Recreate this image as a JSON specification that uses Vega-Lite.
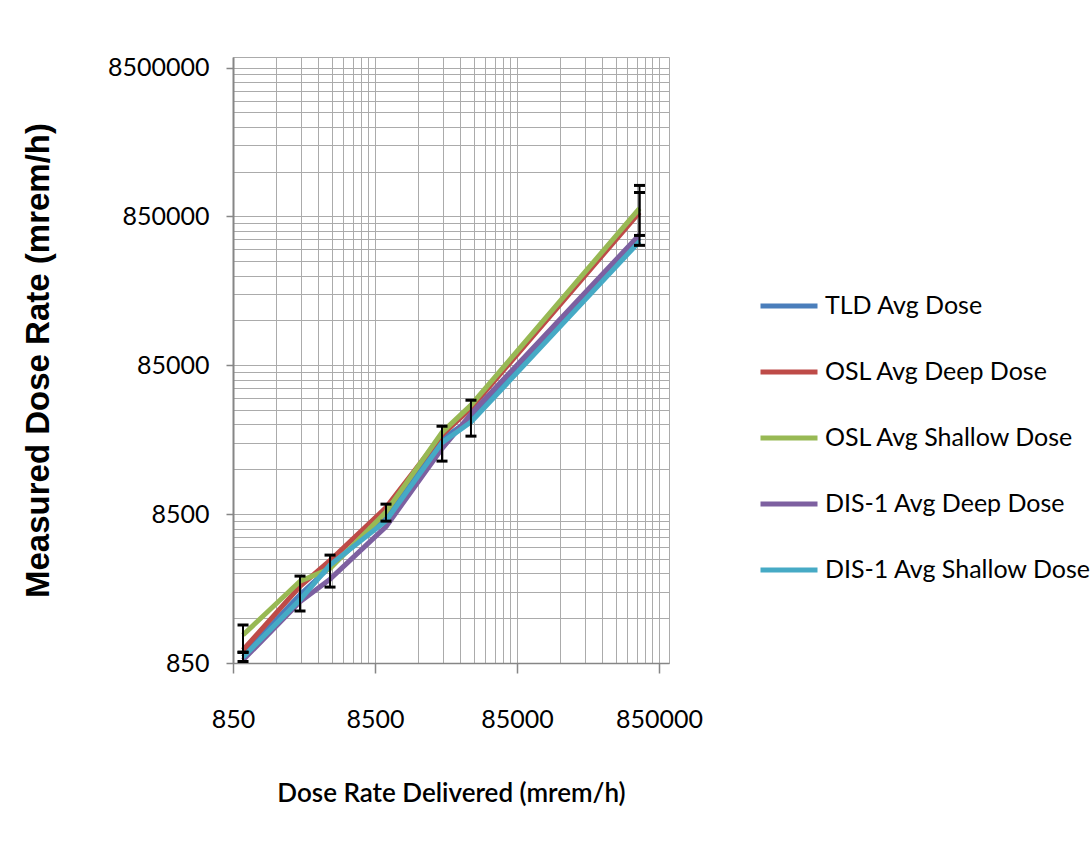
{
  "$schema": "https://vega.github.io/schema/vega-lite/v6.json",
  "autosize": {"type": "none"},
  "width": 436,
  "height": 606,
  "padding": {"left": 233, "top": 57, "right": 423, "bottom": 187},
  "background": "white",
  "config": {
    "font": "Lato",
    "view": {"stroke": "#ABABAB", "strokeWidth": 1},
    "axis": {
      "gridColor": "#ABABAB",
      "gridWidth": 1,
      "gridOpacity": 1,
      "domainColor": "#868686",
      "domainWidth": 1.5,
      "tickColor": "#868686",
      "tickWidth": 1.5,
      "labelColor": "#000000",
      "labelFont": "Lato",
      "labelFontSize": 25,
      "titleColor": "#000000",
      "titleFontWeight": "bold"
    }
  },
  "datasets": {
    "series": [
      {"delivered": 1000, "measured": 961, "series": "TLD Avg Dose"},
      {"delivered": 2520, "measured": 2440, "series": "TLD Avg Dose"},
      {"delivered": 4100, "measured": 3750, "series": "TLD Avg Dose"},
      {"delivered": 10160, "measured": 8300, "series": "TLD Avg Dose"},
      {"delivered": 25200, "measured": 27000, "series": "TLD Avg Dose"},
      {"delivered": 40300, "measured": 37000, "series": "TLD Avg Dose"},
      {"delivered": 620000, "measured": 610000, "series": "TLD Avg Dose"},
      {"delivered": 1000, "measured": 1040, "series": "OSL Avg Deep Dose"},
      {"delivered": 2520, "measured": 2780, "series": "OSL Avg Deep Dose"},
      {"delivered": 4100, "measured": 4150, "series": "OSL Avg Deep Dose"},
      {"delivered": 10160, "measured": 9400, "series": "OSL Avg Deep Dose"},
      {"delivered": 25200, "measured": 28900, "series": "OSL Avg Deep Dose"},
      {"delivered": 40300, "measured": 43800, "series": "OSL Avg Deep Dose"},
      {"delivered": 620000, "measured": 906000, "series": "OSL Avg Deep Dose"},
      {"delivered": 1000, "measured": 1310, "series": "OSL Avg Shallow Dose"},
      {"delivered": 2520, "measured": 3010, "series": "OSL Avg Shallow Dose"},
      {"delivered": 4100, "measured": 3660, "series": "OSL Avg Shallow Dose"},
      {"delivered": 10160, "measured": 8800, "series": "OSL Avg Shallow Dose"},
      {"delivered": 25200, "measured": 30100, "series": "OSL Avg Shallow Dose"},
      {"delivered": 40300, "measured": 45900, "series": "OSL Avg Shallow Dose"},
      {"delivered": 620000, "measured": 962000, "series": "OSL Avg Shallow Dose"},
      {"delivered": 1000, "measured": 890, "series": "DIS-1 Avg Deep Dose"},
      {"delivered": 2520, "measured": 2190, "series": "DIS-1 Avg Deep Dose"},
      {"delivered": 4100, "measured": 3110, "series": "DIS-1 Avg Deep Dose"},
      {"delivered": 10160, "measured": 7000, "series": "DIS-1 Avg Deep Dose"},
      {"delivered": 25200, "measured": 23400, "series": "DIS-1 Avg Deep Dose"},
      {"delivered": 40300, "measured": 40000, "series": "DIS-1 Avg Deep Dose"},
      {"delivered": 620000, "measured": 640000, "series": "DIS-1 Avg Deep Dose"},
      {"delivered": 1000, "measured": 930, "series": "DIS-1 Avg Shallow Dose"},
      {"delivered": 2520, "measured": 2260, "series": "DIS-1 Avg Shallow Dose"},
      {"delivered": 4100, "measured": 3870, "series": "DIS-1 Avg Shallow Dose"},
      {"delivered": 10160, "measured": 7660, "series": "DIS-1 Avg Shallow Dose"},
      {"delivered": 25200, "measured": 25700, "series": "DIS-1 Avg Shallow Dose"},
      {"delivered": 40300, "measured": 35300, "series": "DIS-1 Avg Shallow Dose"},
      {"delivered": 620000, "measured": 577000, "series": "DIS-1 Avg Shallow Dose"}
    ],
    "errors": [
      {"delivered": 1000, "lo": 1007, "hi": 1530},
      {"delivered": 1000, "lo": 870, "hi": 1000},
      {"delivered": 2520, "lo": 1900, "hi": 3260},
      {"delivered": 4100, "lo": 2750, "hi": 4510},
      {"delivered": 10160, "lo": 7630, "hi": 9920},
      {"delivered": 25200, "lo": 19300, "hi": 33100},
      {"delivered": 40300, "lo": 28400, "hi": 49500},
      {"delivered": 620000, "lo": 633000, "hi": 1372000},
      {"delivered": 620000, "lo": 543000, "hi": 1230000}
    ]
  },
  "layer": [
    {
      "data": {"name": "series"},
      "mark": {"type": "line", "strokeWidth": 5, "strokeJoin": "round", "strokeCap": "butt", "clip": true},
      "encoding": {
        "x": {
          "field": "delivered", "type": "quantitative",
          "scale": {"type": "log", "domain": [850, 1000000], "nice": false, "zero": false},
          "axis": {
            "title": "Dose Rate Delivered (mrem/h)",
            "titleFont": "Lato",
            "titleFontSize": 26,
            "titleFontWeight": 600,
            "titlePadding": 48,
            "values": [850,1700,2550,3400,4250,5100,5950,6800,7650,8500,17000,25500,34000,42500,51000,59500,68000,76500,85000,170000,255000,340000,425000,510000,595000,680000,765000,850000],
            "format": "d",
            "labelExpr": "indexof([850,8500,85000,850000], datum.value) >= 0 ? format(datum.value, 'd') : ''",
            "tickSize": 10,
            "tickOpacity": {"condition": {"test": "indexof([850,8500,85000,850000], datum.value) >= 0", "value": 1}, "value": 0},
            "labelPadding": 34,
            "labelFlush": false,
            "labelOverlap": false,
            "grid": true
          }
        },
        "y": {
          "field": "measured", "type": "quantitative",
          "scale": {"type": "log", "domain": [850, 10000000], "nice": false, "zero": false},
          "axis": {
            "title": "Measured Dose Rate (mrem/h)",
            "titleFont": "Liberation Sans",
            "titleFontSize": 33,
            "titlePadding": 52,
            "values": [850,1700,2550,3400,4250,5100,5950,6800,7650,8500,17000,25500,34000,42500,51000,59500,68000,76500,85000,170000,255000,340000,425000,510000,595000,680000,765000,850000,1700000,2550000,3400000,4250000,5100000,5950000,6800000,7650000,8500000],
            "format": "d",
            "labelExpr": "indexof([850,8500,85000,850000,8500000], datum.value) >= 0 ? format(datum.value, 'd') : ''",
            "tickSize": 7,
            "tickOpacity": {"condition": {"test": "indexof([850,8500,85000,850000,8500000], datum.value) >= 0", "value": 1}, "value": 0},
            "labelPadding": 17,
            "labelFlush": false,
            "labelOverlap": false,
            "domainWidth": 2,
            "grid": true
          }
        },
        "color": {
          "field": "series", "type": "nominal",
          "scale": {
            "domain": ["TLD Avg Dose", "OSL Avg Deep Dose", "OSL Avg Shallow Dose", "DIS-1 Avg Deep Dose", "DIS-1 Avg Shallow Dose"],
            "range": ["#4A7EBB", "#BE4B48", "#98B954", "#7D60A0", "#46AAC5"]
          },
          "legend": {
            "title": null,
            "orient": "none",
            "legendX": 525,
            "legendY": 218,
            "symbolType": "stroke",
            "symbolSize": 3249,
            "symbolStrokeWidth": 5,
            "labelFont": "Lato",
            "labelFontSize": 25,
            "labelColor": "#000000",
            "labelOffset": 5,
            "labelLimit": 400,
            "rowPadding": 22
          }
        }
      }
    },
    {
      "data": {"name": "errors"},
      "mark": {"type": "rule", "color": "#000000", "strokeWidth": 2},
      "encoding": {
        "x": {"field": "delivered", "type": "quantitative"},
        "y": {"field": "lo", "type": "quantitative"},
        "y2": {"field": "hi"}
      }
    },
    {
      "data": {"name": "errors"},
      "mark": {"type": "point", "shape": "stroke", "filled": false, "color": "#000000", "strokeWidth": 3, "size": 121, "opacity": 1},
      "encoding": {
        "x": {"field": "delivered", "type": "quantitative"},
        "y": {"field": "lo", "type": "quantitative"}
      }
    },
    {
      "data": {"name": "errors"},
      "mark": {"type": "point", "shape": "stroke", "filled": false, "color": "#000000", "strokeWidth": 3, "size": 121, "opacity": 1},
      "encoding": {
        "x": {"field": "delivered", "type": "quantitative"},
        "y": {"field": "hi", "type": "quantitative"}
      }
    }
  ]
}
